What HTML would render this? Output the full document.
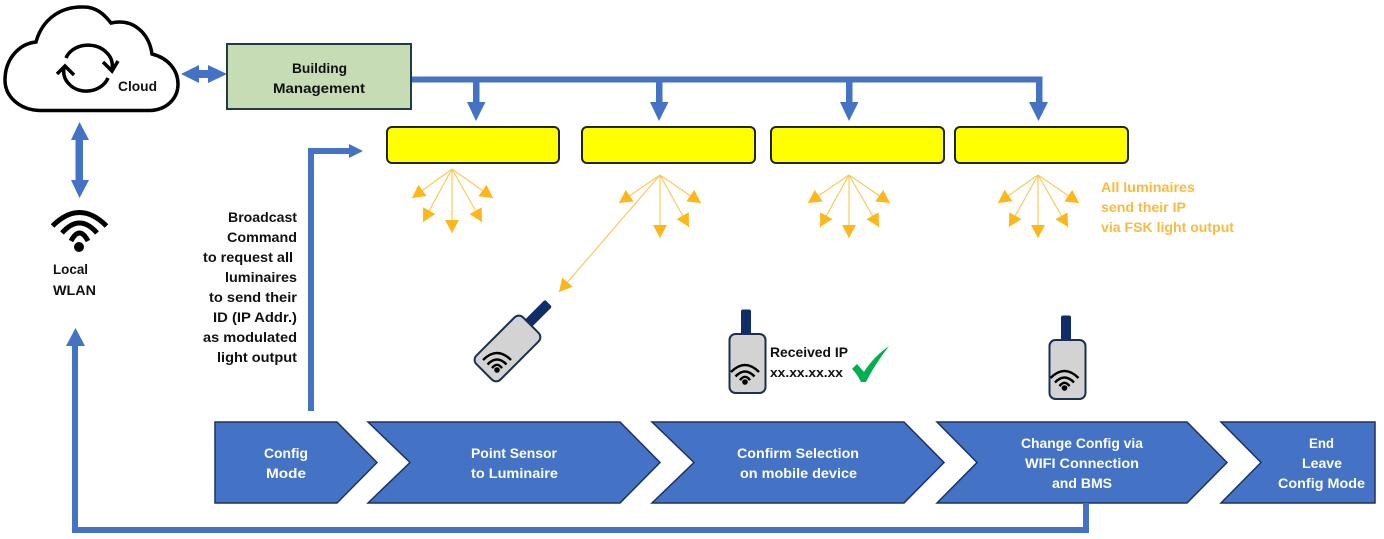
<!DOCTYPE html>
<html><head><meta charset="utf-8"><style>
html,body{margin:0;padding:0;background:#fff}
svg{display:block}
text{font-family:"Liberation Sans",sans-serif;font-weight:bold;font-size:14px;fill:#111}
.w text{fill:#fff}
.o text{fill:#f9bb3c}
</style></head><body>
<svg width="1384" height="539" viewBox="0 0 1384 539" xmlns="http://www.w3.org/2000/svg">
<defs>
<marker id="oh" markerUnits="userSpaceOnUse" markerWidth="15" markerHeight="15" refX="13" refY="7" orient="auto"><path d="M0,0L13,7L0,14Z" fill="#fdb71a"/></marker>
<g id="wf" fill="none" stroke="#000" stroke-width="2.400">
<path d="M-14,-10Q0,-24 14,-10"/><path d="M-9.500,-5.500Q0,-15.500 9.500,-5.500"/><path d="M-5,-1.800Q0,-8.500 5,-1.800"/><circle cx="0" cy="0" r="2.800" fill="#000" stroke="none"/>
</g>
<g id="dev">
<rect x="-6.500" y="-54" width="10" height="26" rx="2" fill="#0f2d69"/>
<rect x="-18" y="-29.500" width="36" height="59" rx="6" fill="#d3d3d3" stroke="#1c2f4f" stroke-width="2"/>
</g>
</defs>

<!-- Cloud -->
<path d="M40,110.500C20,110 5,97 5,80C5,60 18,44 36,42C42,20 60,6 84,7C96,7 104,14 111,23C133,18 149,33 152,54C168,58 178,70 178,84C178,99 166,110 150,110.500Z" fill="#fff" stroke="#000" stroke-width="3.500"/>
<g fill="none" stroke="#000" stroke-width="3.500">
<path d="M66,58C72,44 95,40 107,53C112,58 113,64 112,70"/>
<path d="M103,62L112,71L118,61"/>
<path d="M108,78C102,92 80,96 69,84C64,79 63,73 64,67"/>
<path d="M57,74L65,66L74,75"/>
</g>
<text x="118" y="91" textLength="39" lengthAdjust="spacingAndGlyphs">Cloud</text>

<!-- cloud arrows -->
<path d="M181,74L199,65V70H208V65L227,74L208,83V78H199V83Z" fill="#4472c4"/>
<path d="M79.500,122L89,140H83V180H89L79.500,198L71,180H75.500V140H71Z" fill="#4472c4"/>

<!-- WLAN -->
<g fill="none" stroke="#000" stroke-width="5">
<path d="M52.500,226Q79.500,199 106.500,226"/><path d="M62,233Q79.500,213 97,233"/><path d="M71,241Q79.500,225 88,241"/>
</g>
<circle cx="79" cy="247" r="5" fill="#000"/>
<text x="53" y="274" textLength="35" lengthAdjust="spacingAndGlyphs">Local</text>
<text x="53" y="295" textLength="43" lengthAdjust="spacingAndGlyphs">WLAN</text>

<!-- Building Management -->
<rect x="227" y="44" width="184" height="65" fill="#c5dcb5" stroke="#1f3d45" stroke-width="2"/>
<text x="292" y="73" textLength="55" lengthAdjust="spacingAndGlyphs">Building</text>
<text x="273" y="93" textLength="92" lengthAdjust="spacingAndGlyphs">Management</text>

<!-- bus -->
<path d="M412,79.500H1039.500V104" fill="none" stroke="#4472c4" stroke-width="6"/>
<g fill="#4472c4">
<path d="M473,80H479.500V102H485.500L476,121L467,102H473Z"/>
<path d="M656,80H662.500V102H668.500L659,121L650,102H656Z"/>
<path d="M846,80H852.500V102H858.500L849,121L840,102H846Z"/>
<path d="M1036,80H1042.500V102H1048L1038.500,121L1029,102H1036Z"/>
</g>

<!-- Luminaires -->
<g fill="#ffff00" stroke="#22261a" stroke-width="2">
<rect x="387" y="127" width="172" height="36" rx="5"/>
<rect x="582" y="127" width="173" height="36" rx="5"/>
<rect x="771" y="127" width="173" height="36" rx="5"/>
<rect x="955" y="127" width="173" height="36" rx="5"/>
</g>

<!-- broadcast arrow -->
<path d="M311,411V151H350" fill="none" stroke="#4472c4" stroke-width="6"/>
<path d="M349,144L363,151L349,158Z" fill="#4472c4"/>

<!-- Rays -->
<g stroke="#fbc95c" stroke-width="1.200" fill="none">
<path d="M452,169L412,198" marker-end="url(#oh)"/><path d="M452,169L423,222" marker-end="url(#oh)"/><path d="M452,169V233" marker-end="url(#oh)"/><path d="M452,169L482,222" marker-end="url(#oh)"/><path d="M452,169L493,198" marker-end="url(#oh)"/>
<path d="M660,175L619,203" marker-end="url(#oh)"/><path d="M660,175L559,292" marker-end="url(#oh)"/><path d="M660,175V238" marker-end="url(#oh)"/><path d="M660,175L689,227" marker-end="url(#oh)"/><path d="M660,175L701,203" marker-end="url(#oh)"/>
<path d="M849,175L808,203" marker-end="url(#oh)"/><path d="M849,175L820,227" marker-end="url(#oh)"/><path d="M849,175V238" marker-end="url(#oh)"/><path d="M849,175L879,227" marker-end="url(#oh)"/><path d="M849,175L890,203" marker-end="url(#oh)"/>
<path d="M1038,175L998,203" marker-end="url(#oh)"/><path d="M1038,175L1009,227" marker-end="url(#oh)"/><path d="M1038,175V238" marker-end="url(#oh)"/><path d="M1038,175L1068,227" marker-end="url(#oh)"/><path d="M1038,175L1079,203" marker-end="url(#oh)"/>
</g>
<g class="o">
<text x="1101" y="192" textLength="94" lengthAdjust="spacingAndGlyphs">All luminaires</text>
<text x="1101" y="212" textLength="85" lengthAdjust="spacingAndGlyphs">send their IP</text>
<text x="1101" y="232" textLength="133" lengthAdjust="spacingAndGlyphs">via FSK light output</text>
</g>

<!-- Devices -->
<g transform="translate(507.500,348.500) rotate(45)">
<rect x="-8" y="-61" width="10" height="29" rx="2" fill="#0f2d69"/>
<rect x="-17" y="-33" width="34" height="66" rx="6" fill="#d3d3d3" stroke="#1c2f4f" stroke-width="2"/>
</g>
<use href="#wf" transform="translate(497,370)"/>
<use href="#dev" transform="translate(747.500,363.500)"/>
<use href="#wf" transform="translate(745,382)"/>
<use href="#dev" transform="translate(1067.500,369.500)"/>
<use href="#wf" transform="translate(1064.500,388)"/>

<text x="770" y="357" textLength="78" lengthAdjust="spacingAndGlyphs">Received IP</text>
<text x="770" y="377" style="font-size:13px" textLength="73" lengthAdjust="spacingAndGlyphs">xx.xx.xx.xx</text>
<path d="M852,369L857,364L864,372C870,362 879,353 889,346C880,358 872,370 866,382H861C858,376 855,372 852,369Z" fill="#00b050"/>

<!-- Return line -->
<path d="M1086,503V530H75V345" fill="none" stroke="#4472c4" stroke-width="6"/>
<path d="M75.500,328L85,346H66Z" fill="#4472c4"/>

<!-- Chevrons -->
<g fill="#4472c4" stroke="#1c3260" stroke-width="1.500" stroke-linejoin="miter">
<path d="M215,422H337L377,462.500L337,503H215Z"/>
<path d="M368,422H620L660,462.500L620,503H368L410,462.500Z"/>
<path d="M652,422H904L944,462.500L904,503H652L694,462.500Z"/>
<path d="M937,422H1187L1227,462.500L1187,503H937L977,462.500Z"/>
<path d="M1221,422H1375V503H1221L1261,462.500Z"/>
</g>
<path d="M1086,503V530" fill="none" stroke="#4472c4" stroke-width="6"/>

<g class="w">
<text x="264" y="458" textLength="44" lengthAdjust="spacingAndGlyphs">Config</text>
<text x="266" y="478" textLength="40" lengthAdjust="spacingAndGlyphs">Mode</text>
<text x="471" y="458" textLength="86" lengthAdjust="spacingAndGlyphs">Point Sensor</text>
<text x="471" y="478" textLength="87" lengthAdjust="spacingAndGlyphs">to Luminaire</text>
<text x="737" y="458" textLength="122" lengthAdjust="spacingAndGlyphs">Confirm Selection</text>
<text x="740" y="478" textLength="117" lengthAdjust="spacingAndGlyphs">on mobile device</text>
<text x="1021" y="448" textLength="122" lengthAdjust="spacingAndGlyphs">Change Config via</text>
<text x="1025" y="468" textLength="114" lengthAdjust="spacingAndGlyphs">WIFI Connection</text>
<text x="1052" y="488" textLength="60" lengthAdjust="spacingAndGlyphs">and BMS</text>
<text x="1309" y="448" textLength="25" lengthAdjust="spacingAndGlyphs">End</text>
<text x="1302" y="468" textLength="40" lengthAdjust="spacingAndGlyphs">Leave</text>
<text x="1278" y="488" textLength="87" lengthAdjust="spacingAndGlyphs">Config Mode</text>
</g>

<!-- Broadcast text -->
<text x="228" y="222" textLength="69" lengthAdjust="spacingAndGlyphs">Broadcast</text>
<text x="227" y="242" textLength="70" lengthAdjust="spacingAndGlyphs">Command</text>
<text x="203" y="262" textLength="90" lengthAdjust="spacingAndGlyphs">to request all</text>
<text x="225" y="282" textLength="72" lengthAdjust="spacingAndGlyphs">luminaires</text>
<text x="209" y="302" textLength="88" lengthAdjust="spacingAndGlyphs">to send their</text>
<text x="213" y="322" textLength="84" lengthAdjust="spacingAndGlyphs">ID (IP Addr.)</text>
<text x="203" y="342" textLength="94" lengthAdjust="spacingAndGlyphs">as modulated</text>
<text x="217" y="362" textLength="80" lengthAdjust="spacingAndGlyphs">light output</text>
</svg>
</body></html>
